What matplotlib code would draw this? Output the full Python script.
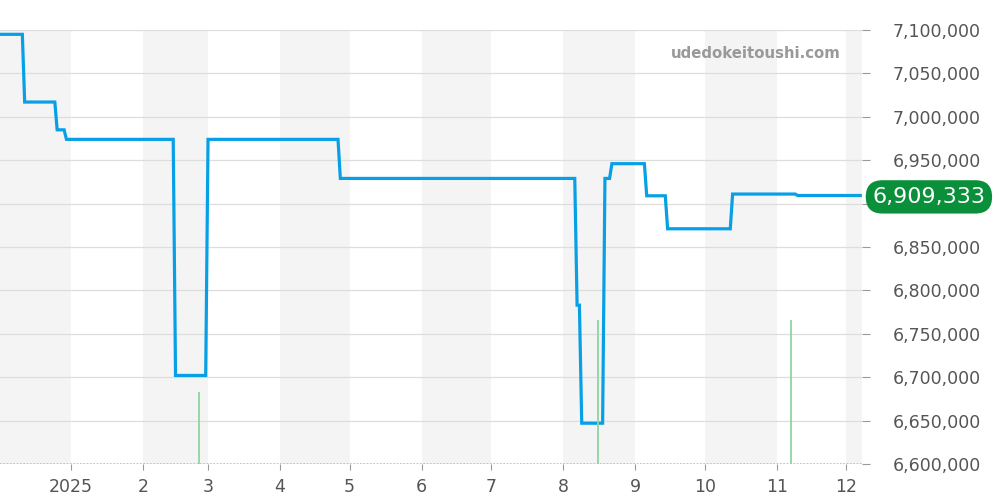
import datetime as dt
import matplotlib
matplotlib.use("Agg")
import matplotlib.pyplot as plt
import matplotlib.dates as mdates
from matplotlib.ticker import FuncFormatter

# price steps (last day of old value, first day of new)
price_dates = [
    "2024-12-01", "2024-12-11", "2024-12-12", "2024-12-25", "2024-12-26",
    "2024-12-29", "2024-12-30", "2025-02-14", "2025-02-15", "2025-02-28",
    "2025-03-01", "2025-04-26", "2025-04-27", "2025-08-06", "2025-08-07",
    "2025-08-08", "2025-08-09", "2025-08-18", "2025-08-19", "2025-08-21",
    "2025-08-22", "2025-09-05", "2025-09-06", "2025-09-14", "2025-09-15",
    "2025-10-12", "2025-10-13", "2025-11-09", "2025-11-10", "2025-12-07",
]
price_values = [
    7095000, 7095000, 7017000, 7017000, 6985000,
    6985000, 6974000, 6974000, 6702000, 6702000,
    6974000, 6974000, 6929000, 6929000, 6783000,
    6783000, 6647000, 6647000, 6929000, 6929000,
    6946000, 6946000, 6909000, 6909000, 6871000,
    6871000, 6911000, 6911000, 6909333, 6909333,
]

volume_dates = ["2025-02-25", "2025-08-16", "2025-11-07"]
volume_values = [1, 2, 2]

last_price = 6909333
y_ticks = [6600000, 6650000, 6700000, 6750000, 6800000, 6850000,
           6900000, 6950000, 7000000, 7050000, 7100000]

x = [dt.datetime.strptime(d, "%Y-%m-%d") for d in price_dates]
vx = [dt.datetime.strptime(d, "%Y-%m-%d") for d in volume_dates]
start = dt.datetime(2024, 12, 1, 9)
end = dt.datetime(2025, 12, 7, 18)

fig = plt.figure(figsize=(10, 5), dpi=100)
ax = fig.add_axes([0.0, 0.072, 0.862, 0.868])
ax2 = ax.twinx()

# alternating month bands
m = dt.datetime(2024, 12, 1)
i = 0
while m < end:
    nxt = dt.datetime(m.year + (m.month // 12), m.month % 12 + 1, 1)
    if i % 2 == 0:
        ax.axvspan(m, min(nxt, end), color="#f4f4f4", lw=0, zorder=0)
    m = nxt
    i += 1

ax.plot(x, price_values, color="#07a0e6", lw=2.3, zorder=3,
        solid_joinstyle="miter")
ax.set_xlim(start, end)
ax.set_ylim(6600000, 7100000)
ax.set_yticks(y_ticks)
ax.yaxis.tick_right()
ax.yaxis.set_major_formatter(FuncFormatter(lambda v, p: f"{int(v):,}"))
ax.grid(axis="y", color="#dddddd", lw=0.9)
ax.set_axisbelow(True)

ax.xaxis.set_major_locator(mdates.MonthLocator())
ax.xaxis.set_major_formatter(FuncFormatter(
    lambda v, p: "2025" if mdates.num2date(v).month == 1 else str(mdates.num2date(v).month)))
ax.tick_params(axis="x", colors="#999999", labelcolor="#555555", labelsize=12.5,
               length=4, pad=6)
ax.tick_params(axis="y", colors="#999999", labelcolor="#555555", labelsize=12.5,
               length=6, pad=16)
for s in ax.spines.values():
    s.set_visible(False)

# volume on a hidden second axis
ax2.vlines(vx, 0, volume_values, color="#8fd6a0", lw=1.3, zorder=2)
ax2.axhline(0, color="#8fd6a0", lw=1.2, ls=(0, (1, 1)))
ax2.set_ylim(0, 6.03)
ax2.set_yticks([])
for s in ax2.spines.values():
    s.set_visible(False)

ax.text(0.975, 0.947, "udedokeitoushi.com", transform=ax.transAxes,
        ha="right", va="center", fontsize=10.7, fontweight="bold", color="#999999")

# last price badge, covering the 6,900,000 tick label as in the original
ax2.annotate(f"{last_price:,}", xy=(1.0, last_price), xycoords=("axes fraction", ax.transData),
             xytext=(7.5, -1), textcoords="offset points",
             ha="left", va="center", fontsize=16.0, color="white",
             bbox=dict(boxstyle="round,pad=0.3,rounding_size=0.75", fc="#0a8f3a", ec="none"),
             annotation_clip=False, zorder=10)

fig.savefig("out.png", dpi=100)
